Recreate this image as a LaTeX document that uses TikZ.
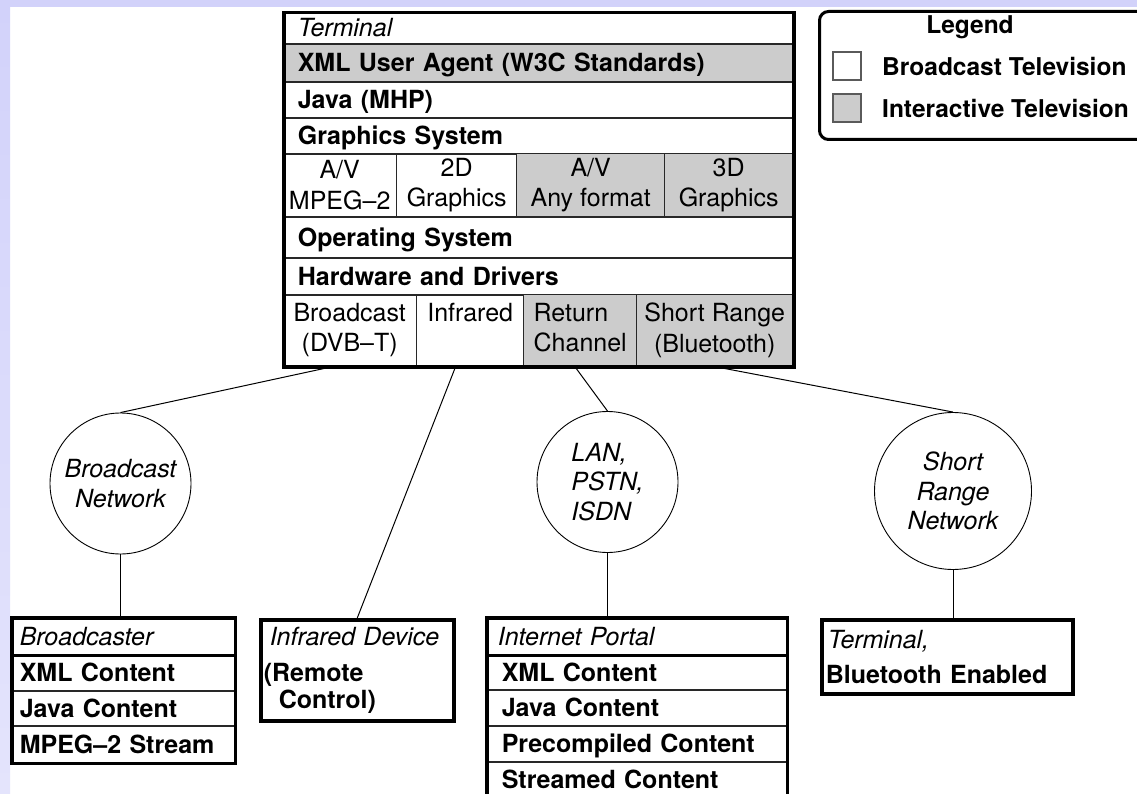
\documentclass[tikz,border=0pt]{standalone}
\usepackage{fontspec}
\setmainfont{TeX Gyre Heros}
\definecolor{bglav}{RGB}{210,210,250}
\definecolor{bglavb}{RGB}{228,228,252}
\definecolor{fillgray}{RGB}{204,204,204}
\definecolor{sepgray}{RGB}{40,40,40}
\definecolor{swgray}{RGB}{90,90,90}
\tikzset{
  rowb/.style={draw=sepgray, line width=1.6pt, anchor=north west, inner xsep=15pt, inner ysep=0pt,
    align=left, text height=18pt, text depth=0pt, font=\fontsize{25}{30}\selectfont\bfseries},
  rowi/.style={rowb, font=\fontsize{25}{30}\selectfont\itshape},
  browb/.style={rowb, inner xsep=7pt},
  browi/.style={rowi, inner xsep=7pt},
  prowb/.style={rowb, inner xsep=14pt},
  prowi/.style={rowi, inner xsep=10pt},
  cellc/.style={draw=sepgray, line width=1.4pt, anchor=north west, inner sep=0pt, align=center,
    font=\fontsize{25}{30.5}\selectfont},
  itv/.style={fill=fillgray},
  outer/.style={draw, line width=3.5pt, anchor=north west, inner sep=0pt},
  net/.style={circle, draw, line width=0.9pt, inner sep=0pt, align=center,
    font=\fontsize{25}{29.5}\selectfont\itshape},
  conn/.style={draw, line width=1pt},
  swatch/.style={draw=swgray, line width=1.2pt, minimum size=28pt, inner sep=0pt},
  legtext/.style={anchor=west, inner sep=0pt, text height=18pt, text depth=0pt,
    font=\fontsize{24.5}{30}\selectfont\bfseries},
}
\begin{document}
\begin{tikzpicture}[x=1pt,y=-1pt]
\useasboundingbox (0,0) rectangle (1137,794);
\clip (0,0) rectangle (1137,794);
\fill[white] (0,0) rectangle (1137,794);
\fill[bglav] (0,0) rectangle (1137,7);
\shade[top color=bglav, bottom color=bglavb] (0,0) rectangle (10,794);

% ---- main terminal box
\node[rowi, fill=white, minimum height=32pt, text width=480pt] (tterm) at (282,11) {Terminal};
\node[rowb, itv, minimum height=38pt, text width=480pt] (txml) at (282,43) {XML User Agent (W3C Standards)};
\node[rowb, minimum height=36pt, text width=480pt] (tjava) at (282,81) {Java (MHP)};
\node[rowb, minimum height=36pt, text width=480pt] (tgfx) at (282,117) {Graphics System};
\node[cellc, minimum width=114pt, minimum height=63pt] (cav) at (282,153) {A/V\\MPEG–2};
\node[cellc, minimum width=120pt, minimum height=63pt] (c2d) at (396,153) {2D\\Graphics};
\node[cellc, itv, minimum width=148pt, minimum height=63pt] (cany) at (516,153) {A/V\\Any format};
\node[cellc, itv, minimum width=128pt, minimum height=63pt] (c3d) at (664,153) {3D\\Graphics};
\node[rowb, minimum height=41pt, text width=480pt] (tos) at (282,216) {Operating System};
\node[rowb, minimum height=37pt, text width=480pt] (thw) at (282,257) {Hardware and Drivers};
\node[cellc, minimum width=134pt, minimum height=71pt] (hbc) at (282,294) {Broadcast\\(DVB–T)};
\node[cellc, minimum width=107pt, minimum height=71pt] (hir) at (416,294) {Infrared\\\vphantom{(}};
\node[cellc, itv, minimum width=113pt, minimum height=71pt, align=left] (hrc) at (523,294) {Return\\Channel\vphantom{(}};
\node[cellc, itv, minimum width=156pt, minimum height=71pt] (hsr) at (636,294) {Short Range\\(Bluetooth)};

% ---- networks
\node[net, minimum size=141pt] (bnet) at (120.5,483.5) {Broadcast\\Network};
\node[net, minimum size=141pt, align=left] (lan) at (607.5,482) {LAN,\\PSTN,\\ISDN};
\node[net, minimum size=157pt] (srn) at (953,491) {Short\\Range\\Network};

% ---- broadcaster box
\node[browi, minimum height=36pt, text width=208pt] (bcast) at (12,618) {Broadcaster};
\node[browb, minimum height=36pt, text width=208pt] (bx1) at (12,654) {XML Content};
\node[browb, minimum height=35pt, text width=208pt] (bx2) at (12,690) {Java Content};
\node[browb, minimum height=37pt, text width=208pt] (bx3) at (12,725) {MPEG–2 Stream};
\draw[line width=2.6pt] (bcast.south west) -- (bcast.south east);
\draw[line width=3.5pt] (bcast.north west) rectangle (bx3.south east);

% ---- infrared device
\node[outer, minimum width=193pt, minimum height=101pt, text width=187pt, inner xsep=3pt, align=left,
  font=\fontsize{25}{30}\selectfont\bfseries] (irdev) at (259,618)
  {{\mdseries\itshape\hspace*{6pt}Infrared Device}\\[6pt](Remote\\[-3pt]\hspace*{15pt}Control)};

% ---- internet portal
\node[prowi, minimum height=36pt, text width=279pt] (portal) at (487,618) {Internet Portal};
\node[prowb, minimum height=35pt, text width=271pt] (px1) at (487,654) {XML Content};
\node[prowb, minimum height=36pt, text width=271pt] (px2) at (487,689) {Java Content};
\node[prowb, minimum height=36pt, text width=271pt] (px3) at (487,725) {Precompiled Content};
\node[prowb, minimum height=36pt, text width=271pt] (px4) at (487,761) {Streamed Content};
\draw[line width=2.6pt] (portal.south west) -- (portal.south east);
\draw[line width=3.5pt] (portal.north west) rectangle (px4.south east);

% ---- bluetooth terminal
\node[outer, minimum width=251pt, minimum height=74pt, text width=243pt, inner xsep=4pt, align=left,
  font=\fontsize{25}{30}\selectfont\bfseries] (btterm) at (820,618)
  {{\mdseries\itshape\hspace*{2pt}Terminal,}\\[5pt]Bluetooth Enabled};

% ---- connectors
\draw[conn] ([xshift=-16pt]hbc.south) -- (bnet.north);
\draw[conn] ([xshift=-14.5pt]hir.south) -- (irdev.north);
\draw[conn] ([xshift=-5.5pt]hrc.south) -- (lan.north);
\draw[conn] ([xshift=-1pt]hsr.south) -- (srn.north);
\draw[conn] (bnet.south) -- (bnet.south |- bcast.north);
\draw[conn] (lan.south) -- (lan.south |- portal.north);
\draw[conn] (srn.south) -- (srn.south |- btterm.north);

% ---- main box outline
\node[outer, minimum width=510pt, minimum height=354pt] (term) at (282,11) {};

% ---- legend
\node[draw, line width=3pt, rounded corners=9pt, anchor=north west, minimum width=345pt,
  minimum height=128pt, inner sep=0pt] (legend) at (818,10) {};
\node[inner sep=0pt, text height=18pt, text depth=0pt, font=\fontsize{24.5}{30}\selectfont\bfseries]
  (legt) at (970,25) {Legend};
\node[swatch, fill=white] (lw) at (847,66) {};
\node[swatch, fill=fillgray] (lg) at (847,108) {};
\node[legtext] (lwt) at (882,67) {Broadcast Television};
\node[legtext] (lgt) at (882,109) {Interactive Television};
\end{tikzpicture}
\end{document}
